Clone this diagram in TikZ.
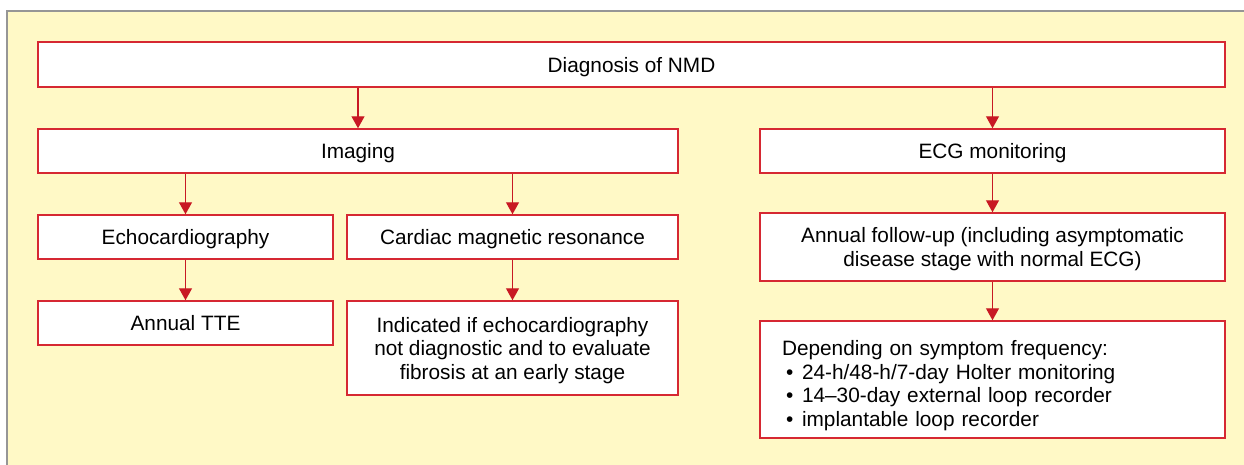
\documentclass[tikz,border=0pt]{standalone}
\usepackage{fontspec}
\setmainfont{Liberation Sans}
\usetikzlibrary{arrows.meta}
\definecolor{panelfill}{RGB}{255,249,198}
\definecolor{panelline}{RGB}{150,150,150}
\definecolor{boxred}{RGB}{214,40,50}
\definecolor{arrred}{RGB}{200,25,35}
\begin{document}
\begin{tikzpicture}[x=1pt,y=-1pt,
  box/.style={draw=boxred,line width=1.5pt,fill=white,inner sep=0pt,text depth=0pt,font=\fontsize{20.8}{23.5}\selectfont,align=center},
  arr/.style={draw=arrred,line width=1.3pt,-{Triangle[width=13pt,length=12pt]}}]
\useasboundingbox (0,0) rectangle (1244,464);
\begin{scope}
\clip (0,0) rectangle (1244,464);
\draw[panelline,line width=2pt,fill=panelfill] (7,11) rectangle (1260,480);
\end{scope}
\node[box,minimum width=1187pt,minimum height=45pt] (diag) at (631.5,64.5) {Diagnosis of NMD};
\node[box,minimum width=640pt,minimum height=44pt] (img) at (358,151) {Imaging};
\node[box,minimum width=465pt,minimum height=44pt] (ecg) at (992.5,151) {ECG monitoring};
\node[box,minimum width=295pt,minimum height=44pt] (echo) at (185.5,237) {Echocardiography};
\node[box,minimum width=331pt,minimum height=44pt] (cmr) at (512.5,237) {Cardiac magnetic resonance};
\node[box,minimum width=465pt,minimum height=68pt] (fu) at (992.5,247) {Annual follow-up (including asymptomatic\\disease stage with normal ECG)};
\node[box,minimum width=295pt,minimum height=44pt] (tte) at (185.5,323) {Annual TTE};
\node[box,minimum width=331pt,minimum height=94pt] (ind) at (512.5,348) {Indicated if echocardiography\\not diagnostic and to evaluate\\fibrosis at an early stage};
\node[box,minimum width=465pt,minimum height=117pt,align=left,text width=421pt,text depth={}] (dep) at (992.5,379.5) {\rule{0pt}{27pt}Depending on symptom frequency:\\
\makebox[20pt][l]{\hspace{4pt}•}24-h/48-h/7-day Holter monitoring\\
\makebox[20pt][l]{\hspace{4pt}•}14--30-day external loop recorder\\
\makebox[20pt][l]{\hspace{4pt}•}implantable loop recorder};
\draw[arr] (diag.south -| img) -- (img.north);
\draw[arr] (diag.south -| ecg) -- (ecg.north);
\draw[arr] (img.south -| echo) -- (echo.north);
\draw[arr] (img.south -| cmr) -- (cmr.north);
\draw[arr] (echo) -- (tte);
\draw[arr] (cmr) -- (ind);
\draw[arr] (ecg) -- (fu);
\draw[arr] (fu) -- (dep);
\end{tikzpicture}
\end{document}
